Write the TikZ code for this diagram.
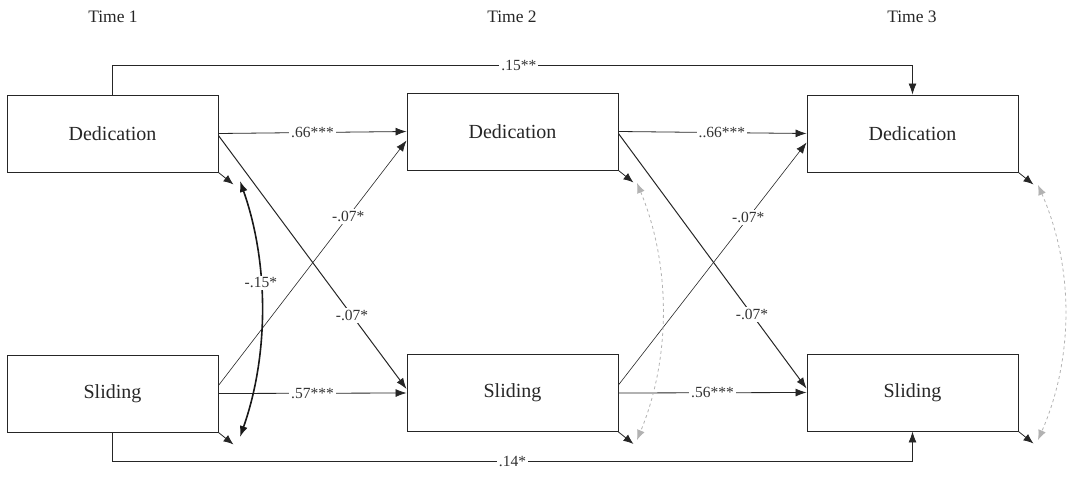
\documentclass[tikz,border=0pt]{standalone}
\usepackage{fontspec}
\setmainfont{Liberation Serif}
\usetikzlibrary{arrows.meta}
\begin{document}
\begin{tikzpicture}[x=1pt,y=-1pt,
  box/.style={draw=black!85, line width=0.9pt, minimum width=211pt, minimum height=77pt,
    inner sep=0pt, text=black!85, font=\fontsize{20}{24}\selectfont},
  conn/.style={draw=black!85, line width=0.8pt, -{Latex[length=11pt,width=8pt]}},
  resid/.style={draw=black!85, line width=0.8pt, -{Latex[length=10pt,width=8pt]}},
  lab/.style={fill=white, inner sep=2pt, text=black!80, font=\fontsize{15.5}{18}\selectfont},
  timelab/.style={text=black!85, font=\fontsize{17.5}{20}\selectfont},
  covblack/.style={draw=black!90, line width=1.6pt, {Latex[length=11pt,width=8pt]}-{Latex[length=11pt,width=8pt]}},
  covgray/.style={draw=black!30, line width=0.8pt, dashed, {Latex[length=10pt,width=8pt]}-{Latex[length=10pt,width=8pt]}}
]
\useasboundingbox (0,0) rectangle (1072,479);

% time labels
\node[timelab] (t1) at (113,17) {Time 1};
\node[timelab] (t2) at (512,17) {Time 2};
\node[timelab] (t3) at (912,17) {Time 3};

% boxes
\node[box] (d1) at (112.5,133.5) {Dedication};
\node[box] (s1) at (112.5,393.5) {Sliding};
\node[box] (d2) at (512.5,131.5) {Dedication};
\node[box] (s2) at (512.5,393) {Sliding};
\node[box] (d3) at (912.5,133.5) {Dedication};
\node[box] (s3) at (912.5,392.5) {Sliding};

% T1 -> T2
\draw[conn] (d1.east) -- node[lab] {.66***} (d2.west);
\draw[conn] (s1.east) -- node[lab] {.57***} (s2.west);
\draw[conn, line width=1pt] ([yshift=-2pt]d1.east) -- node[lab, pos=0.71] {-.07*} ([yshift=4pt]s2.west);
\draw[conn, line width=0.6pt] ([yshift=8pt]s1.east) -- node[lab, pos=0.69] {-.07*} ([yshift=-9pt]d2.west);

% T2 -> T3
\draw[conn] (d2.east) -- node[lab, pos=0.55] {..66***} (d3.west);
\draw[conn] (s2.east) -- node[lab, pos=0.5] {.56***} (s3.west);
\draw[conn, line width=1pt] ([yshift=-2pt]d2.east) -- node[lab, pos=0.71] {-.07*} ([yshift=4pt]s3.west);
\draw[conn, line width=0.6pt] ([yshift=8pt]s2.east) -- node[lab, pos=0.69] {-.07*} ([yshift=-9pt]d3.west);

% long lags
\draw[conn] (d1.north) -- ++(0,-29) -| node[lab, pos=0.254] {.15**} (d3.north);
\draw[conn] (s1.south) -- ++(0,29) -| node[lab, pos=0.25] {.14*} (s3.south);

% residual arrows
\draw[resid] (d1.south east) -- ++(15,12) coordinate (rd1);
\draw[resid] (s1.south east) -- ++(15,12) coordinate (rs1);
\draw[resid] (d2.south east) -- ++(15,12) coordinate (rd2);
\draw[resid] (s2.south east) -- ++(15,12) coordinate (rs2);
\draw[resid] (d3.south east) -- ++(15,12) coordinate (rd3);
\draw[resid] (s3.south east) -- ++(15,12) coordinate (rs3);

% covariances
\coordinate (c1a) at (240,181);
\coordinate (c1b) at (240,437);
\coordinate (c2a) at (637,183);
\coordinate (c2b) at (637,440);
\coordinate (c3a) at (1038,185);
\coordinate (c3b) at (1038,440);
\draw[covblack] (c1a) .. controls (269,263) and (269,355) .. node[lab, pos=0.4] {-.15*} (c1b);
\draw[covgray] (c2a) .. controls (671,265) and (671,358) .. (c2b);
\draw[covgray] (c3a) .. controls (1074,267) and (1074,358) .. (c3b);
\end{tikzpicture}
\end{document}
